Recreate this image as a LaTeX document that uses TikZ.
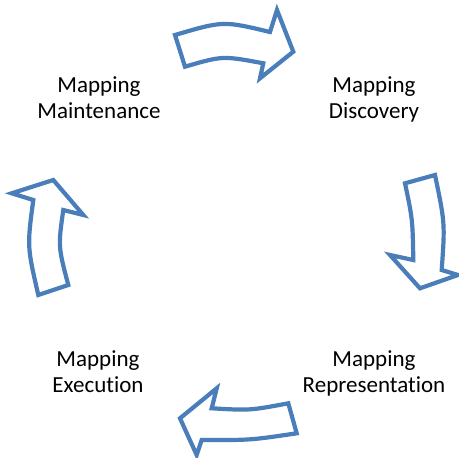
\documentclass[tikz,border=0pt]{standalone}
\usepackage{fontspec}
\setmainfont{Carlito}[Ligatures=NoCommon]
\definecolor{arrowblue}{RGB}{74,126,187}
\begin{document}
\begin{tikzpicture}[x=1pt,y=-1pt,
  blockarrow/.style={draw=arrowblue,fill=white,line width=4.2pt,line join=miter},
  label/.style={align=center,inner sep=0pt,anchor=base,font=\fontsize{23}{25.5}\selectfont}]
\useasboundingbox (0,0) rectangle (459,458);
% labels (base anchor = baseline of the last line)
\node[label] (maint) at (99,118) {Mapping\\Maintenance};
\node[label] (disc) at (374,118) {Mapping\\Discovery};
\node[label] (repr) at (374,392) {Mapping\\Representation};
\node[label] (exec) at (98,392) {Mapping\\Execution};
% top arrow (right)
\draw[blockarrow] (175,35) .. controls (223.2,20.8) .. (270,32) -- (277,10) -- (293.3,51.7) -- (260,78.3) -- (263.3,63.3)
  .. controls (222.6,55.7) .. (185,66.7) -- cycle;
% right arrow (down)
\draw[blockarrow] (405,183.3) -- (435,175) .. controls (445,223.2) .. (441.7,270) -- (458,275) -- (420,288.3) -- (390,255) -- (413.3,260)
  .. controls (412.6,219.4) .. (405,183.3) -- cycle;
% bottom arrow (left)
\draw[blockarrow] (288.3,403.3) -- (296.7,433.3) .. controls (250.3,440.2) .. (201.7,440) -- (196.7,455) -- (180,418.3) -- (216.7,388.3) -- (211.7,408.3)
  .. controls (250,410.5) .. (288.3,403.3) -- cycle;
% left arrow (up)
\draw[blockarrow] (38.3,295) -- (68.3,285) .. controls (58.1,246.4) .. (63.3,210) -- (83.3,215) -- (53.3,180) -- (11.7,193.3) -- (33.3,200)
  .. controls (27.1,246.4) .. (38.3,295) -- cycle;
\end{tikzpicture}
\end{document}
